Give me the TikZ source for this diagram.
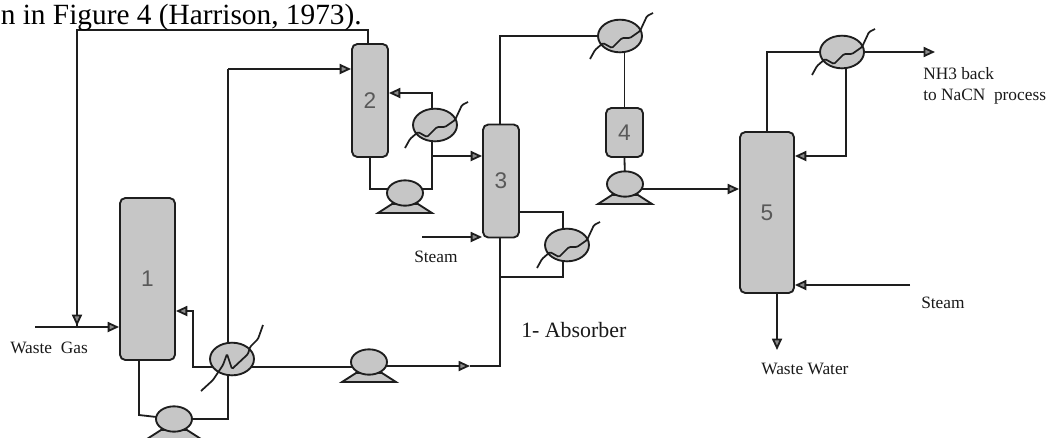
\documentclass[tikz,border=0pt]{standalone}
\usepackage{fontspec}
\setmainfont{Liberation Serif}
\newfontfamily\numfont{Liberation Sans}
\usetikzlibrary{arrows.meta,backgrounds,calc,shapes.geometric}
\definecolor{ink}{HTML}{1E1E1E}
\definecolor{stipple}{HTML}{C6C6C6}
\tikzset{
  x=0.75pt,y=-0.75pt,
  pipe/.style={draw=ink,line width=1.35pt,line join=miter},
  flow/.style={pipe,-{Triangle[length=8.5pt,width=7.5pt,fill=stipple!70!black]}},
  column/.style={draw=ink,line width=1.4pt,fill=stipple,rounded corners=4pt,inner sep=0pt,font=\numfont\fontsize{17}{20}\selectfont,text=black!65},
  vessel/.style={draw=ink,line width=1.4pt,fill=stipple,ellipse,inner sep=0pt},
  hx/.style={vessel,minimum width=33pt,minimum height=24.5pt},
  pumpbody/.style={vessel,minimum width=27pt,minimum height=19pt},
  pumpbase/.style={draw=ink,line width=1.4pt,fill=stipple},
  utility/.style={draw=ink,line width=1.3pt,rounded corners=1pt},
  lbl/.style={font=\fontsize{13}{15.7}\selectfont,text=black!90,inner sep=0pt},
}
\newcommand{\pumpat}[3]{% name, x, y
  \path[pumpbase] (#2-27,#3+20) -- (#2-13,#3+11) -- (#2+13,#3+11) -- (#2+27,#3+20) -- cycle;
  \node[pumpbody] (#1) at (#2,#3) {};
}
\begin{document}
\begin{tikzpicture}
\useasboundingbox (0,0) rectangle (1048,437);
\clip (0,0) rectangle (1048,437);

% columns
\node[column,minimum width=41.25pt,minimum height=121.5pt] (c1) at (147.5,279) {1};
\node[column,minimum width=27pt,minimum height=84.75pt] (c2) at (370,100.5) {2};
\node[column,minimum width=27pt,minimum height=84.75pt] (c3) at (501,181) {3};
\node[column,minimum width=27.75pt,minimum height=36.75pt] (c4) at (624.5,132.5) {4};
\node[column,minimum width=40.5pt,minimum height=120.75pt] (c5) at (767,212.5) {5};

% exchangers
\node[hx] (h1) at (232,359) {};
\node[hx] (h2) at (435,125) {};
\node[hx] (h3) at (567,245) {};
\node[hx] (h4) at (620,36) {};
\node[hx] (h5) at (842,52) {};

% pumps
\pumpat{p1}{174}{419}
\pumpat{p2}{405}{193}
\pumpat{p3}{369}{362}
\pumpat{p4}{625}{184}

% utility squiggles
\draw[utility] (h2.center) ++(-30,23) -- ++(5,-9) -- ++(8,-7) -- ++(9,5) -- ++(10,-10) -- ++(8,0) -- ++(10,-7) -- ++(7,-15) -- ++(6,-3);
\draw[utility] (h3.center) ++(-30,23) -- ++(5,-9) -- ++(8,-7) -- ++(9,5) -- ++(10,-10) -- ++(8,0) -- ++(10,-7) -- ++(7,-15) -- ++(6,-3);
\draw[utility] (h4.center) ++(-30,23) -- ++(5,-9) -- ++(8,-7) -- ++(9,5) -- ++(10,-10) -- ++(8,0) -- ++(10,-7) -- ++(7,-15) -- ++(6,-3);
\draw[utility] (h5.center) ++(-30,23) -- ++(5,-9) -- ++(8,-7) -- ++(9,5) -- ++(10,-10) -- ++(8,0) -- ++(10,-7) -- ++(7,-15) -- ++(6,-3);
\draw[utility] (h1.center) ++(-31,32) -- ++(12,-11) -- ++(10,-15) -- ++(4,-11) -- ++(5,15) -- ++(16,-15) -- ++(2,-7) -- ++(8,-8) -- ++(5,-14);

% bend points and free ends
\coordinate (topL) at (77,30);
\coordinate (topR) at (368,30);
\coordinate (wgS) at (35,327);
\coordinate (wgT) at (77,326);
\coordinate (f2) at (227,69);
\coordinate (lp1) at (139,415);
\coordinate (lp1r) at (228,415);
\coordinate (ret) at (193,367);
\coordinate (retT) at (193,311);
\coordinate (mid) at (470,366);
\coordinate (midR) at (500,366);
\coordinate (s3) at (422,237);
\coordinate (b3) at (563,277);
\coordinate (t3) at (563,212);
\coordinate (top3) at (500,36);
\coordinate (c2t) at (432,93);
\coordinate (c2b) at (370,189);
\coordinate (p2r) at (432,189);
\coordinate (t23) at (432,156);
\coordinate (top5) at (767,52);
\coordinate (nh3) at (935,52);
\coordinate (r5) at (846,156);
\coordinate (s5) at (910,285);
\coordinate (w5) at (777,350);
\coordinate (f45) at (625,189);

\begin{scope}[on background layer]
  % recycle from column 2 to the waste gas line
  \draw[pipe] (topR |- c2.north) -- (topR) -- (topL) -- (wgT);
  \draw[flow] ($(topL)!0.9!(wgT)$) -- (wgT);
  \draw[flow] (wgS) -- (wgS -| c1.west);
  % column 1 loop
  \draw[pipe] (lp1 |- c1.south) -- (lp1) -- (p1.center);
  \draw[pipe] (p1.center) -- (lp1r |- p1.center) -- (lp1r |- f2);
  \draw[flow] (lp1r |- f2) -- (f2 -| c2.west);
  \draw[flow] (h1.center |- ret) -- (ret) -- (retT) -- (retT -| c1.east);
  \draw[pipe] (h1.center |- ret) -- (p3.center |- ret);
  \draw[flow] (p3.center |- mid) -- (mid);
  \draw[pipe] (mid) -- (midR) -- (midR |- c3.south);
  % column 2 loop
  \draw[pipe] (c2b |- c2.south) -- (c2b) -- (p2r) -- (p2r |- h2.center);
  \draw[flow] (c2t |- h2.center) -- (c2t) -- (c2t -| c2.east);
  \draw[flow] (t23) -- (t23 -| c3.west);
  % column 3
  \draw[flow] (s3) -- (s3 -| c3.west);
  \draw[pipe] (t3 -| c3.east) -- (t3) -- (t3 |- h3.center);
  \draw[pipe] (b3 |- h3.center) -- (b3) -- (b3 -| midR);
  \draw[pipe] (top3 |- c3.north) -- (top3) -- (h4.center);
  % column 4
  \draw[pipe] (c4.north |- h4.center) -- (c4.north);
  \draw[pipe] (c4.south) -- (p4.center);
  \draw[flow] (f45) -- (f45 -| c5.west);
  % column 5
  \draw[pipe] (top5 |- c5.north) -- (top5) -- (h5.center);
  \draw[flow] (h5.center) -- (nh3);
  \draw[flow] (r5 |- h5.center) -- (r5) -- (r5 -| c5.east);
  \draw[flow] (s5) -- (s5 -| c5.east);
  \draw[flow] (w5 |- c5.south) -- (w5);
\end{scope}

% texts
\node[anchor=base east,inner sep=0pt,font=\fontsize{22}{24}\selectfont] (head) at (362,24) {n in Figure 4 (Harrison, 1973).};
\node[lbl,anchor=base west] (t1) at (10,353) {Waste\ \ Gas};
\node[lbl,anchor=base west] (t2) at (414,262) {Steam};
\node[lbl,anchor=base west,font=\fontsize{16.4}{19}\selectfont] (t3n) at (521,337) {1- Absorber};
\node[lbl,anchor=base west] (t4) at (761,374) {Waste Water};
\node[lbl,anchor=base west] (t5) at (921,308) {Steam};
\node[lbl,anchor=north west,align=left] (t6) at (923,67) {NH3 back\\to NaCN\ \ process};
\end{tikzpicture}
\end{document}
